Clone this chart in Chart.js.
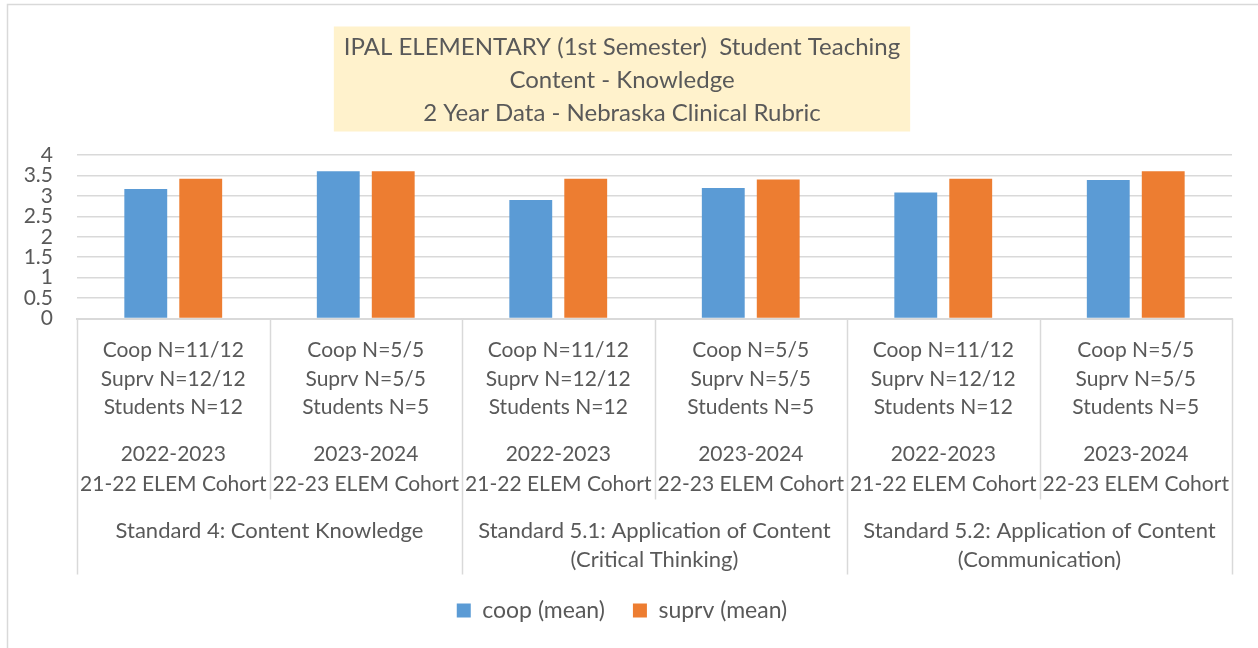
<!DOCTYPE html>
<html>
<head>
<meta charset="utf-8">
<script src="https://cdn.jsdelivr.net/npm/chart.js@4"></script>
<style>
  body { margin: 0; background: #fff; }
  #wrap { position: relative; width: 1258px; height: 648px; }
</style>
</head>
<body>
<div id="wrap"><canvas id="chart"></canvas></div>
<script>
// data
const titleLines = [
    'IPAL ELEMENTARY (1st Semester)  Student Teaching',
    'Content - Knowledge',
    '2 Year Data - Nebraska Clinical Rubric'
];
const cohortLabels = [
    ['Coop N=11/12', 'Suprv N=12/12', 'Students N=12'],
    ['Coop N=5/5', 'Suprv N=5/5', 'Students N=5'],
    ['Coop N=11/12', 'Suprv N=12/12', 'Students N=12'],
    ['Coop N=5/5', 'Suprv N=5/5', 'Students N=5'],
    ['Coop N=11/12', 'Suprv N=12/12', 'Students N=12'],
    ['Coop N=5/5', 'Suprv N=5/5', 'Students N=5']
];
const yearLabels = [
    ['2022-2023', '21-22 ELEM Cohort'],
    ['2023-2024', '22-23 ELEM Cohort'],
    ['2022-2023', '21-22 ELEM Cohort'],
    ['2023-2024', '22-23 ELEM Cohort'],
    ['2022-2023', '21-22 ELEM Cohort'],
    ['2023-2024', '22-23 ELEM Cohort']
];
const standardLabels = [
    'Standard 4: Content Knowledge',
    ['Standard 5.1: Application of Content', '(Critical Thinking)'],
    ['Standard 5.2: Application of Content', '(Communication)']
];
const coopMean = [3.17, 3.6, 2.9, 3.19, 3.08, 3.39];
const suprvMean = [3.42, 3.6, 3.42, 3.4, 3.42, 3.6];

const FONT = 'Lato, Calibri, Carlito, "Noto Sans", sans-serif';
const TEXT = '#595959';
const LINE = '#d9d9d9';
const TITLE_SIZE = 24;
const TITLE_LH = 33;

// yellow box behind the title + outer frame
const titleBox = {
    id: 'titleBox',
    beforeDraw(chart) {
        const ctx = chart.ctx;
        const tb = chart.titleBlock;
        const opts = chart.options.plugins.title;
        ctx.save();
        ctx.strokeStyle = LINE;
        ctx.lineWidth = 1.5;
        ctx.strokeRect(7.5, 4.5, chart.width + 20, chart.height + 20);
        ctx.font = TITLE_SIZE + 'px ' + FONT;
        let w = 0;
        titleLines.forEach(t => { w = Math.max(w, ctx.measureText(t).width); });
        const cx = (tb.left + tb.right) / 2;
        const top = tb.top + opts.padding.top - 4;
        const h = titleLines.length * TITLE_LH + 6;
        ctx.fillStyle = '#FFF2CC';
        ctx.fillRect(cx - w / 2 - 10, top, w + 20, h);
        ctx.restore();
    }
};

// category separators like the Excel multi-level axis
const separators = {
    id: 'separators',
    afterDraw(chart) {
        const ctx = chart.ctx;
        const x = chart.scales.x;
        const xs = chart.scales.xStd;
        const xy = chart.scales.xYear;
        const n = cohortLabels.length;
        const step = (x.right - x.left) / n;
        const y0 = chart.chartArea.bottom;
        ctx.save();
        ctx.strokeStyle = LINE;
        ctx.lineWidth = 1.5;
        for (let i = 0; i <= n; i++) {
            const px = Math.round(x.left + i * step) + 0.5;
            const outer = i % 2 === 0;
            ctx.beginPath();
            ctx.moveTo(px, y0);
            ctx.lineTo(px, outer ? xs.top + 75 : xy.bottom);
            ctx.stroke();
        }
        ctx.restore();
    }
};

const tickFont = (size, lh) => ({ family: FONT, size: size, lineHeight: lh + 'px' });

new Chart(document.getElementById('chart'), {
    type: 'bar',
    data: {
        labels: cohortLabels,
        datasets: [
            {
                label: 'coop (mean)',
                data: coopMean,
                backgroundColor: '#5B9BD5',
                borderWidth: 0,
                categoryPercentage: 0.571,
                barPercentage: 0.78
            },
            {
                label: 'suprv (mean)',
                data: suprvMean,
                backgroundColor: '#ED7D31',
                borderWidth: 0,
                categoryPercentage: 0.571,
                barPercentage: 0.78
            }
        ]
    },
    options: {
        responsive: true,
        maintainAspectRatio: false,
        animation: false,
        layout: { padding: { left: 12, right: 26, top: 0, bottom: 16 } },
        plugins: {
            title: {
                display: true,
                text: titleLines,
                color: TEXT,
                font: { family: FONT, size: TITLE_SIZE, weight: 'normal', lineHeight: TITLE_LH + 'px' },
                padding: { top: 30.5, bottom: 25.5 }
            },
            legend: {
                position: 'bottom',
                labels: {
                    color: TEXT,
                    font: { family: FONT, size: 23 },
                    boxWidth: 14,
                    boxHeight: 14,
                    padding: 28
                }
            },
            tooltip: { enabled: false }
        },
        scales: {
            y: {
                min: 0,
                max: 4,
                afterFit(scale) { scale.width = 65; },
                ticks: {
                    stepSize: 0.5,
                    autoSkip: false,
                    callback: v => String(v),
                    color: TEXT,
                    padding: 24,
                    font: { family: FONT, size: 21, lineHeight: '20px' }
                },
                grid: { color: LINE, lineWidth: 1.5, drawTicks: false },
                border: { display: false }
            },
            x: {
                offset: true,
                weight: 0,
                afterFit(scale) { scale.height = 103; },
                grid: { display: false, drawTicks: false },
                border: { display: true, color: LINE, width: 2 },
                ticks: {
                    autoSkip: false,
                    maxRotation: 0,
                    minRotation: 0,
                    color: TEXT,
                    padding: 17.75,
                    font: tickFont(21, 28.5)
                }
            },
            xYear: {
                type: 'category',
                position: 'bottom',
                labels: yearLabels,
                offset: true,
                weight: 1,
                afterFit(scale) { scale.height = 78; },
                grid: { display: false, drawTicks: false },
                border: { display: false },
                ticks: {
                    autoSkip: false,
                    maxRotation: 0,
                    minRotation: 0,
                    color: TEXT,
                    padding: 18,
                    font: tickFont(21, 30)
                }
            },
            xStd: {
                type: 'category',
                position: 'bottom',
                labels: standardLabels,
                offset: true,
                weight: 2,
                afterFit(scale) { scale.height = 71.5; },
                grid: { display: false, drawTicks: false },
                border: { display: false },
                ticks: {
                    autoSkip: false,
                    maxRotation: 0,
                    minRotation: 0,
                    color: TEXT,
                    padding: 16.5,
                    font: tickFont(22, 29)
                }
            }
        }
    },
    plugins: [titleBox, separators]
});
</script>
</body>
</html>
